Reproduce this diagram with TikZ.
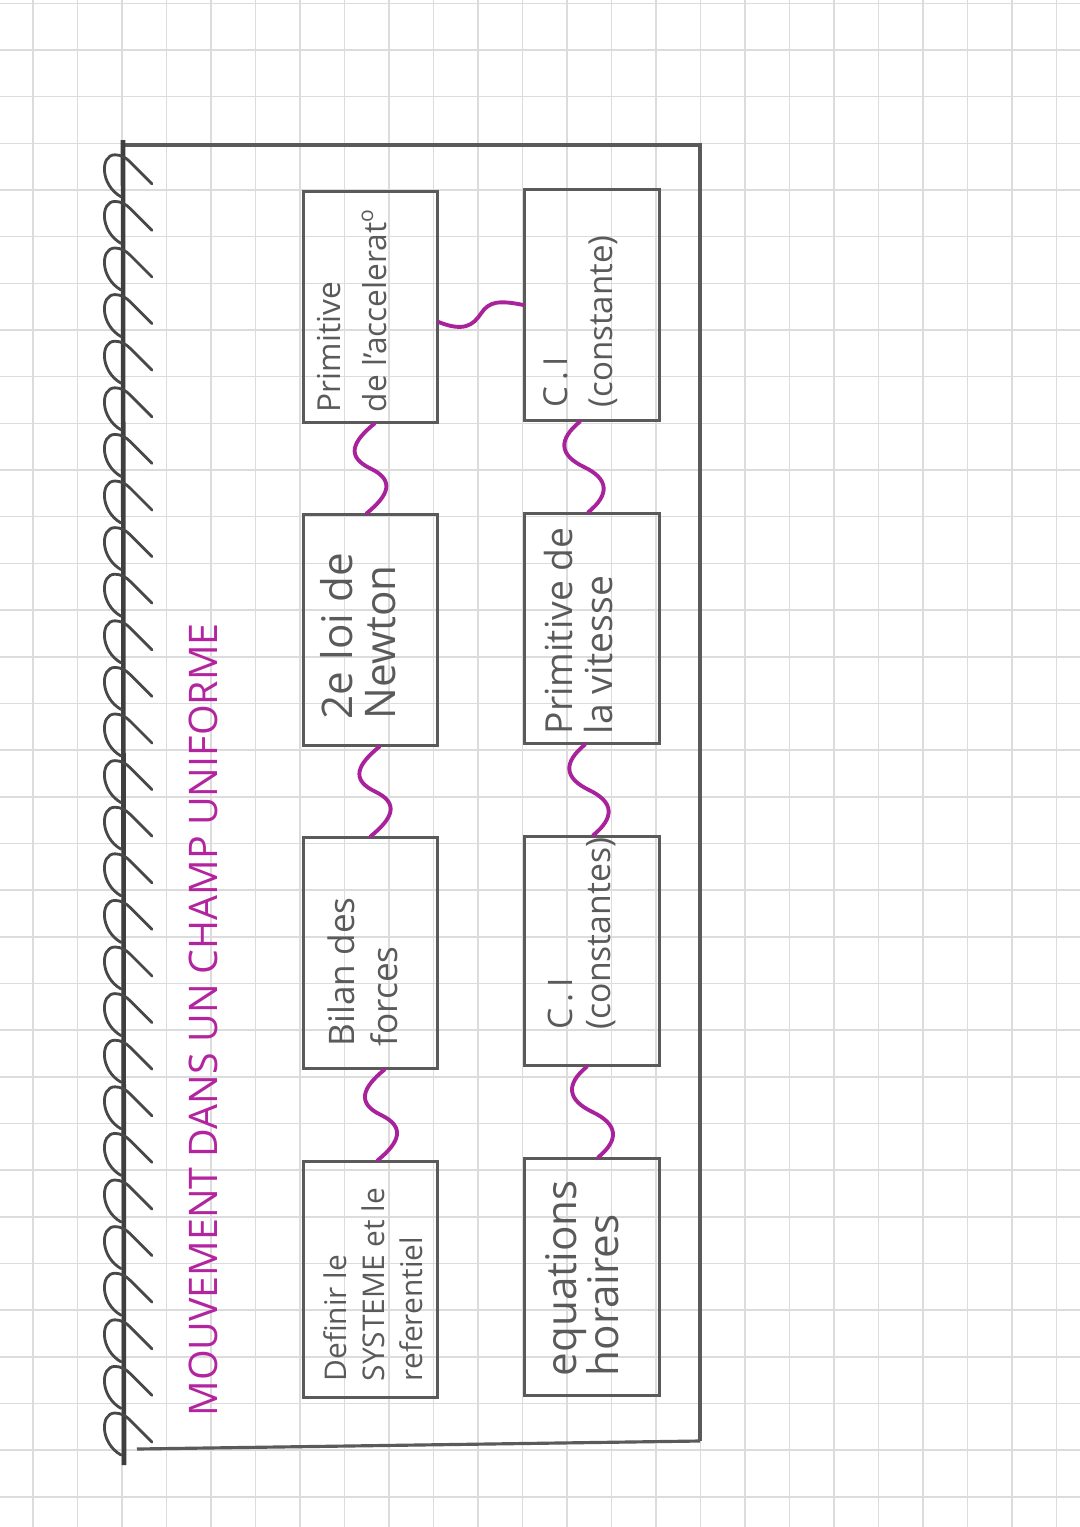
\documentclass[tikz,border=0pt]{standalone}
\usepackage{fontspec}
\setmainfont{Open Sans}
\usetikzlibrary{calc}
\definecolor{pencil}{HTML}{5A5A5A}
\definecolor{gridc}{HTML}{DCDCDC}
\definecolor{ink}{HTML}{A8229C}
\definecolor{titlec}{HTML}{B3249F}
\begin{document}
\begin{tikzpicture}[x=0.01cm,y=-0.01cm,
  box/.style={draw=pencil, line width=0.85pt, minimum width=1.33cm, inner sep=0pt},
  txt/.style={rotate=90, anchor=north west, align=left, inner sep=0pt, text=pencil},
  conn/.style={draw=ink, line width=1.1pt, line cap=round},
  coil/.style={draw=pencil!80!black, line width=0.8pt, line cap=round},
  swiggle/.style={to path={.. controls +(-22,18) and +(-25,-12) .. ($(\tikztostart)!0.5!(\tikztotarget)$) .. controls +(25,12) and +(22,-18) .. (\tikztotarget)}}]
\useasboundingbox (0,0) rectangle (1080,1527);
\fill[white] (0,0) rectangle (1080,1527);
% grid paper
\foreach \i in {0,...,23} \draw[gridc, line width=0.45pt] ({33+44.5*\i},0) -- ({33+44.5*\i},1527);
\foreach \i in {-1,...,31} \draw[gridc, line width=0.45pt] (0,{50+46.67*\i}) -- (1080,{50+46.67*\i});
% frame
\draw[pencil, line width=0.9pt] (123,145) -- (700,145) -- (700,1441);
\draw[pencil, line width=0.9pt] (137,1449) -- (700,1441);
\draw[pencil!70!black, line width=1.3pt] (123,140) -- (124,1465);
% coils
\foreach \i in {0,...,27} {
  \pgfmathsetmacro\yb{1455-46.6*\i}
  \draw[coil] (121,\yb) .. controls (100,\yb-12) and (100,\yb-42) .. (115,\yb-42) .. controls (121,\yb-42) and (126,\yb-39) .. (130,\yb-35) -- (152,\yb-13);
}
% title
\node[rotate=90, text=titlec, inner sep=0pt, font=\fontsize{11.2}{13}\selectfont] (title) at (203,1020) {MOUVEMENT DANS UN CHAMP UNIFORME};
% boxes
\node[box, minimum height=2.35cm] (A) at (370.5,1279.5) {};
\node[box, minimum height=2.30cm] (B) at (370.5,953) {};
\node[box, minimum height=2.30cm] (C) at (370.5,630) {};
\node[box, minimum height=2.30cm] (D) at (370.5,307) {};
\node[box, minimum height=2.36cm, minimum width=1.34cm] (E) at (592,1277) {};
\node[box, minimum height=2.28cm, minimum width=1.34cm] (F) at (592,951) {};
\node[box, minimum height=2.29cm, minimum width=1.34cm] (G) at (592,628.5) {};
\node[box, minimum height=2.30cm, minimum width=1.34cm] (H) at (592,305) {};
% texts
\node[txt, font=\fontsize{8.5}{10.8}\selectfont] (tA) at (323,1382) {Definir le\\SYSTEME et le\\referentiel};
\node[txt, font=\fontsize{10}{12.2}\selectfont] (tB) at (327,1047) {Bilan des\\forces};
\node[txt, font=\fontsize{12}{12.2}\selectfont] (tC) at (320,720) {2e loi de\\Newton};
\node[txt, font=\fontsize{9}{13}\selectfont] (tD) at (317,413) {Primitive\\de l'accelerat\textsuperscript{o}};
\node[txt, font=\fontsize{12}{12}\selectfont] (tE) at (545,1377) {equations\\horaires};
\node[txt, font=\fontsize{9.6}{10.8}\selectfont] (tF) at (547,1030) {C\,.\,I\\(constantes)};
\node[txt, font=\fontsize{10.6}{11.4}\selectfont] (tG) at (543,735) {Primitive de\\la vitesse};
\node[txt, font=\fontsize{9.4}{12.8}\selectfont] (tH) at (543,408) {C\,.\,I\\(constante)};
% connectors
\draw[conn] ($(B.south)+(14,0)$) to[swiggle] ($(A.north)+(7,0)$);
\draw[conn] ($(C.south)+(9,0)$) to[swiggle] (B.north);
\draw[conn] ($(D.south)+(4,0)$) to[swiggle] ($(C.north)+(-4,0)$);
\draw[conn] ($(F.south)+(-5,0)$) to[swiggle] ($(E.north)+(6,0)$);
\draw[conn] ($(G.south)+(-7,0)$) to[swiggle] ($(F.north)+(1,0)$);
\draw[conn] ($(H.south)+(-12,0)$) to[swiggle] ($(G.north)+(-4,0)$);
\coordinate (dh) at ($(D.east)+(0,15)$);
\draw[conn] (dh) .. controls +(25,10) and +(-8,12) .. ($(dh)!0.5!(H.west)$) .. controls +(8,-12) and +(-25,-5) .. (H.west);
\end{tikzpicture}
\end{document}
